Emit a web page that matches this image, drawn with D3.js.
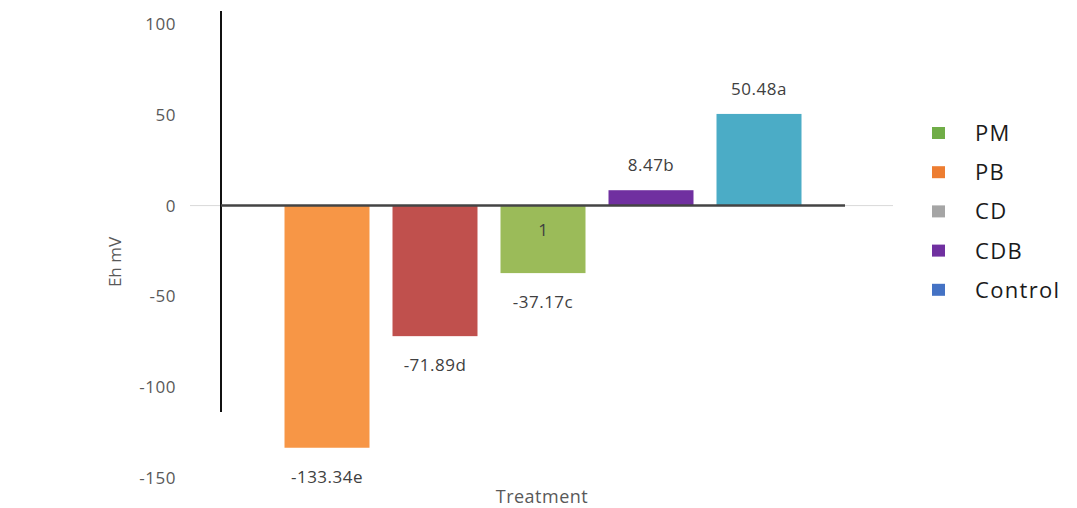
<!DOCTYPE html>
<html><head><meta charset="utf-8">
<script src="https://cdn.jsdelivr.net/npm/d3@7"></script>
<style>body{margin:0;background:#fff;} svg{display:block;}</style>
</head><body>
<svg id="c" width="1077" height="508"></svg>
<script>
const categories = ["PB", "CD", "PM", "CDB", "Control"];
const values = [-133.34, -71.89, -37.17, 8.47, 50.48];
const valueLabels = ["-133.34e", "-71.89d", "-37.17c", "8.47b", "50.48a"];
const barColors = ["#f79646", "#c0504d", "#9bbb59", "#7030a0", "#4bacc6"];
const yTicks = [100, 50, 0, -50, -100, -150];
const legendNames = ["PM", "PB", "CD", "CDB", "Control"];
const legendColors = ["#70ad47", "#ed7d31", "#a5a5a5", "#7030a0", "#4472c4"];

const svg = d3.select("#c");
const font = "'Open Sans', 'Noto Sans', sans-serif";
const y = d3.scaleLinear().domain([-150, 100]).range([478, 24]);
const x = d3.scaleBand().domain(categories).range([273, 813]).paddingInner(0.213).paddingOuter(0.1065);

// light gridline at zero
svg.append("line").attr("x1", 190).attr("x2", 893).attr("y1", y(0)).attr("y2", y(0))
  .attr("stroke", "#d9d9d9").attr("stroke-width", 1);

// y tick labels
const yAxis = d3.axisLeft(y).tickValues(yTicks).tickSize(0).tickPadding(0).tickFormat(d => String(d));
const ga = svg.append("g").attr("transform", "translate(176,0)").call(yAxis);
ga.select(".domain").remove();
ga.selectAll("text").attr("font-family", font).attr("font-size", 17).attr("fill", "#595959")
  .attr("letter-spacing", 0.5);

// bars
svg.selectAll("rect.bar").data(values).enter().append("rect")
  .attr("x", (d, i) => x(categories[i]))
  .attr("width", x.bandwidth())
  .attr("y", d => y(Math.max(0, d)))
  .attr("height", d => Math.abs(y(d) - y(0)))
  .attr("fill", (d, i) => barColors[i]);

// axis lines
svg.append("line").attr("x1", 221).attr("x2", 221).attr("y1", 11).attr("y2", 412)
  .attr("stroke", "#111").attr("stroke-width", 2);
svg.append("line").attr("x1", 221).attr("x2", 845).attr("y1", y(0)).attr("y2", y(0))
  .attr("stroke", "#444").attr("stroke-width", 2.5);

// value labels
svg.selectAll("text.vl").data(values).enter().append("text")
  .attr("x", (d, i) => x(categories[i]) + x.bandwidth() / 2)
  .attr("y", d => d < 0 ? y(d) + 35 : y(d) - 19)
  .attr("text-anchor", "middle")
  .attr("font-family", font).attr("font-size", 17).attr("fill", "#404040")
  .attr("letter-spacing", 0.5)
  .text((d, i) => valueLabels[i]);

// stray "1" inside PM bar
svg.append("text")
  .attr("x", x("PM") + x.bandwidth() / 2).attr("y", y(-16.5))
  .attr("text-anchor", "middle").attr("font-family", font).attr("font-size", 17)
  .attr("fill", "#404040").text("1");

// axis titles
svg.append("text").attr("transform", "translate(121,262) rotate(-90)")
  .attr("text-anchor", "middle").attr("font-family", font).attr("font-size", 17)
  .attr("fill", "#595959").text("Eh mV");
svg.append("text").attr("x", 542).attr("y", 503).attr("text-anchor", "middle")
  .attr("font-family", font).attr("font-size", 18).attr("fill", "#595959")
  .attr("letter-spacing", 0.5).text("Treatment");

// legend
const lg = svg.selectAll("g.lg").data(legendNames).enter().append("g")
  .attr("transform", (d, i) => `translate(932, ${133 + i * 39.2})`);
lg.append("rect").attr("x", 0).attr("y", -6).attr("width", 13).attr("height", 12)
  .attr("fill", (d, i) => legendColors[i]);
lg.append("text").attr("x", 43).attr("y", 8).attr("font-family", font).attr("font-size", 22)
  .attr("font-weight", 500).attr("letter-spacing", 1.3)
  .attr("fill", "#1a1a1a").text(d => d);
</script>
</body></html>
